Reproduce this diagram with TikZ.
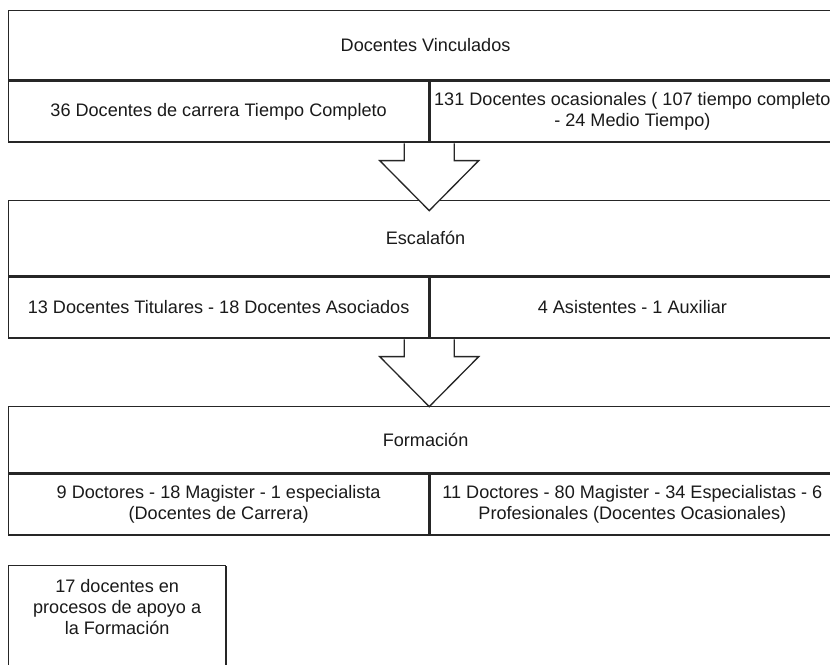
\documentclass[tikz,border=0pt]{standalone}
\usepackage{fontspec}
\setmainfont{Liberation Sans}
\usetikzlibrary{calc, shadows}
\definecolor{cline}{HTML}{262626}
\definecolor{ctext}{HTML}{1A1A1A}
\tikzset{
  every picture/.style={font=\fontsize{10.3}{12}\selectfont, line width=0.75pt},
  box/.style={draw=cline, fill=white, text=ctext, align=center, inner sep=0pt},
  hdr/.style={box, minimum width=16.68cm, anchor=north west},
  cell/.style={box, minimum height=1.22cm, anchor=north west, drop shadow={shadow xshift=0pt, shadow yshift=-0.7pt, fill=cline, opacity=1}},
  bigarrow/.style={draw=cline, fill=white, line join=miter},
}
\newcommand{\blockarrow}[1]{%
  \draw[bigarrow] ($(#1)+(-25,0.8)$) -- ++(0,17.2) -- ++(-24.5,0) -- ++(49.5,50) -- ++(49.5,-50) -- ++(-24.5,0) -- ++(0,-17.2);}

\begin{document}
\begin{tikzpicture}[x=0.02cm, y=-0.02cm]
  \useasboundingbox (0,0) rectangle (830,664);
  \clip (0,0) rectangle (830,664);
  % docentes vinculados
  \node[hdr, minimum height=1.38cm] (vinc) at (8,10) {Docentes Vinculados};
  \node[cell, minimum width=8.4cm] (vincL) at (vinc.south west) {36 Docentes de carrera Tiempo Completo};
  \node[cell, minimum width=8.1cm] (vincR) at (vincL.north east) {131 Docentes ocasionales ( 107 tiempo completo\\- 24 Medio Tiempo)};
  % escalafon
  \node[hdr, minimum height=1.5cm] (esc) at (8,200) {Escalafón};
  \node[cell, minimum width=8.4cm] (escL) at (esc.south west) {13 Docentes Titulares - 18 Docentes Asociados};
  \node[cell, minimum width=8.1cm] (escR) at (escL.north east) {4 Asistentes - 1 Auxiliar};
  % formacion
  \node[hdr, minimum height=1.32cm] (form) at (8,406) {Formación};
  \node[cell, minimum width=8.4cm] (formL) at (form.south west) {9 Doctores -  18 Magister - 1 especialista\\(Docentes de Carrera)};
  \node[cell, minimum width=8.1cm] (formR) at (formL.north east) {11 Doctores - 80 Magister - 34  Especialistas - 6\\Profesionales (Docentes Ocasionales)};
  % apoyo
  \node[box, anchor=north west, drop shadow={shadow xshift=0.6pt, shadow yshift=0pt, fill=cline, opacity=1}] (apoyo) at (8,565)
    {\parbox[c][2.5cm][t]{4.34cm}{\centering\vspace*{0.27cm}17 docentes en\\procesos de apoyo a\\la Formación}};
  % arrows between the tables
  \blockarrow{vincL.south east}
  \blockarrow{escL.south east}
\end{tikzpicture}
\end{document}
